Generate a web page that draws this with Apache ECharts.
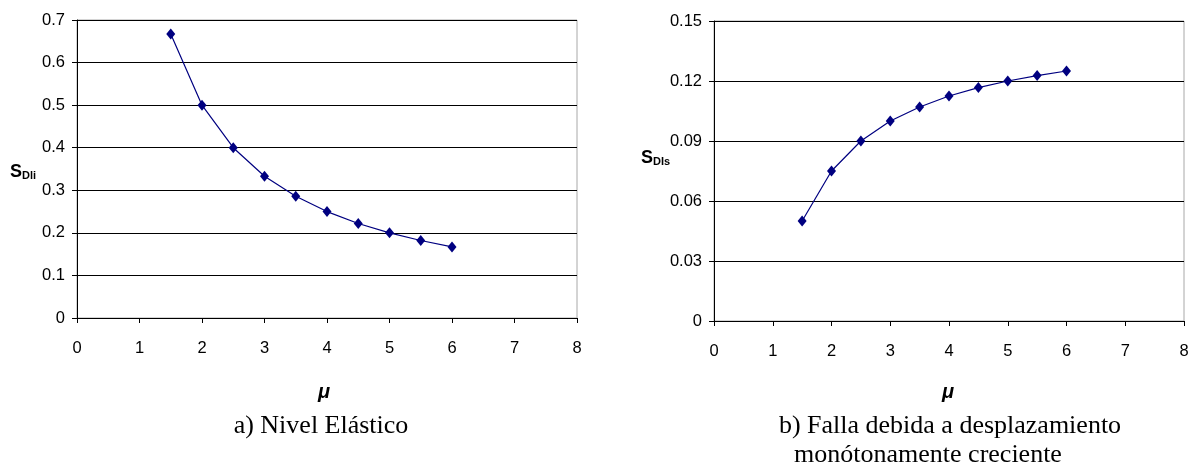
<!DOCTYPE html>
<html>
<head>
<meta charset="utf-8">
<script src="https://cdn.jsdelivr.net/npm/echarts@6/dist/echarts.min.js"></script>
<style>
html,body{margin:0;padding:0;background:#fff;}
#c{width:1193px;height:466px;}
</style>
</head>
<body>
<div id="c"></div>
<script>
const muValues = [1.5, 2, 2.5, 3, 3.5, 4, 4.5, 5, 5.5, 6];
const sdliValues = [0.667, 0.5, 0.4, 0.333, 0.286, 0.25, 0.222, 0.2, 0.182, 0.167];
const sdlsValues = [0.05, 0.075, 0.09, 0.1, 0.107, 0.1125, 0.1167, 0.12, 0.1227, 0.125];
const leftYTicks = [0, 0.1, 0.2, 0.3, 0.4, 0.5, 0.6, 0.7];
const rightYTicks = [0, 0.03, 0.06, 0.09, 0.12, 0.15];
const xTicks = [0, 1, 2, 3, 4, 5, 6, 7, 8];
const captionA = 'a) Nivel Elástico';
const captionB1 = 'b) Falla debida a desplazamiento';
const captionB2 = 'monótonamente creciente';
const xTitle = 'μ';

const SANS = '"Liberation Sans", Arial, sans-serif';
const SERIF = '"Liberation Serif", "Times New Roman", serif';

function pairs(xs, ys) { return xs.map((x, i) => [x, ys[i]]); }
function fmt(v) { return String(+(+v).toFixed(3)); }

const chart = echarts.init(document.getElementById('c'), null, {renderer: 'canvas'});

function xAxisFor(gi) {
  return {
    gridIndex: gi, type: 'value',
    min: xTicks[0], max: xTicks[xTicks.length - 1], interval: 1,
    axisLine: {show: true, onZero: false, lineStyle: {color: '#000', width: 1}},
    axisTick: {show: true, inside: false, length: 5, lineStyle: {color: '#000'}},
    axisLabel: {show: true, margin: 22, fontSize: 16.5, color: '#000', fontFamily: SANS, formatter: fmt},
    splitLine: {show: false}
  };
}
function yAxisFor(gi, ticks) {
  return {
    gridIndex: gi, type: 'value',
    min: ticks[0], max: ticks[ticks.length - 1], interval: ticks[1] - ticks[0],
    axisLine: {show: true, lineStyle: {color: '#000', width: 1}},
    axisTick: {show: true, inside: false, length: 5, lineStyle: {color: '#000'}},
    axisLabel: {show: true, margin: 12, fontSize: 16.5, color: '#000', fontFamily: SANS, formatter: fmt},
    splitLine: {show: true, lineStyle: {color: '#000', width: 1}}
  };
}
function seriesFor(i, ys) {
  return {
    type: 'line', xAxisIndex: i, yAxisIndex: i,
    data: pairs(muValues, ys),
    symbol: 'diamond', symbolSize: [9, 11], showSymbol: true,
    lineStyle: {color: '#000080', width: 1.2},
    itemStyle: {color: '#000080'},
    animation: false
  };
}

const subRich = {
  s: {fontSize: 18, fontWeight: 'bold', fontFamily: SANS, color: '#000'},
  d: {fontSize: 11, fontWeight: 'bold', fontFamily: SANS, color: '#000', verticalAlign: 'bottom'}
};

chart.setOption({
  backgroundColor: '#fff',
  animation: false,
  grid: [
    {left: 77, right: 616, top: 20, bottom: 148, show: true, borderColor: '#a8a8a8', borderWidth: 1, containLabel: false},
    {left: 714, right: 9, top: 21, bottom: 145, show: true, borderColor: '#a8a8a8', borderWidth: 1, containLabel: false}
  ],
  xAxis: [xAxisFor(0), xAxisFor(1)],
  yAxis: [yAxisFor(0, leftYTicks), yAxisFor(1, rightYTicks)],
  series: [seriesFor(0, sdliValues), seriesFor(1, sdlsValues)],
  graphic: [
    {type: 'text', left: 10, top: 163, style: {text: '{s|S}{d|Dli}', rich: subRich}},
    {type: 'text', left: 641, top: 149, style: {text: '{s|S}{d|DIs}', rich: subRich}},
    {type: 'text', x: 324, y: 392, style: {text: xTitle, fontSize: 20, fontWeight: 'bold', fontStyle: 'italic', fontFamily: SANS, fill: '#000', align: 'center', verticalAlign: 'middle'}},
    {type: 'text', x: 948, y: 392, style: {text: xTitle, fontSize: 20, fontWeight: 'bold', fontStyle: 'italic', fontFamily: SANS, fill: '#000', align: 'center', verticalAlign: 'middle'}},
    {type: 'text', x: 321, y: 426, style: {text: captionA, fontSize: 26, fontFamily: SERIF, fill: '#000', align: 'center', verticalAlign: 'middle'}},
    {type: 'text', x: 950, y: 426, style: {text: captionB1, fontSize: 26, fontFamily: SERIF, fill: '#000', align: 'center', verticalAlign: 'middle'}},
    {type: 'text', x: 928, y: 455, style: {text: captionB2, fontSize: 26, fontFamily: SERIF, fill: '#000', align: 'center', verticalAlign: 'middle'}}
  ]
});
</script>
</body>
</html>
